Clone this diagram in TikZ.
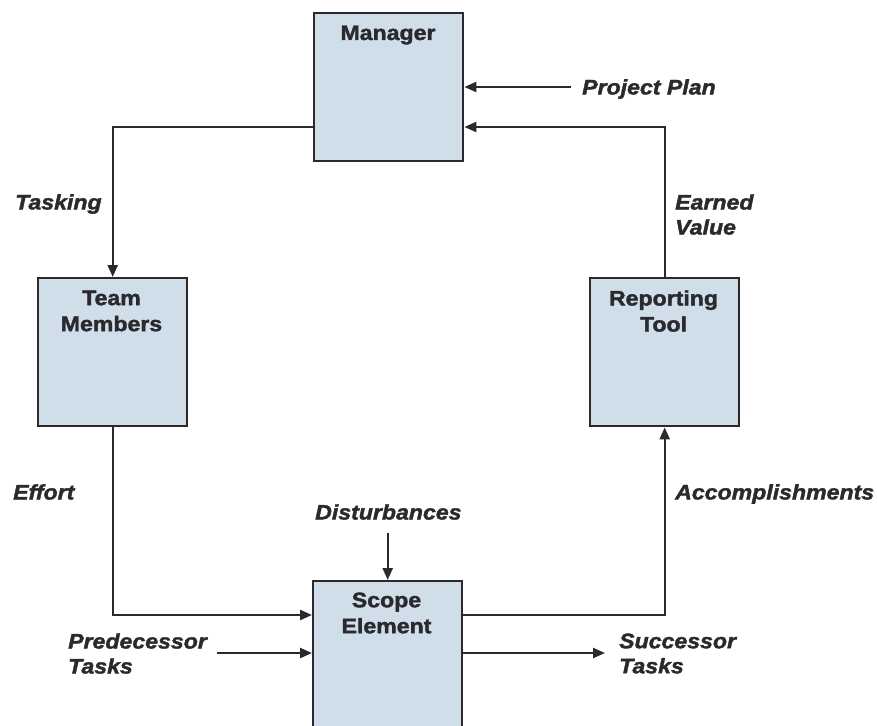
\documentclass[tikz,border=0pt]{standalone}
\usepackage{fontspec}
\setmainfont{Liberation Sans}[FakeStretch=1.1,
  BoldFeatures={FakeBold=1.8}, BoldItalicFeatures={FakeBold=1.8}]
\usetikzlibrary{arrows.meta,calc}
\definecolor{boxfill}{RGB}{208,222,234}
\definecolor{ink}{RGB}{42,42,46}
\begin{document}
\begin{tikzpicture}[x=1pt,y=-1pt,
  block/.style={draw=ink, line width=2.4pt, fill=boxfill, minimum width=149pt,
    minimum height=148pt, inner sep=0pt, anchor=north west},
  title/.style={font=\fontsize{21}{26}\selectfont\bfseries, text=ink,
    align=center, inner sep=0pt},
  flow/.style={font=\fontsize{21}{25}\selectfont\bfseries\itshape, text=ink,
    align=left, inner sep=0pt, anchor=west},
  link/.style={draw=ink, line width=2.4pt, -{Triangle[length=12pt,width=10pt]}}
]
\clip (0,0) rectangle (877,725);

% process blocks
\node[block] (mgr) at (313,12) {};
\node[block] (team) at (37,277) {};
\node[block] (rep) at (589,277) {};
\node[block, minimum height=170pt] (scope) at (312,580) {};

% block titles
\node[title] (mgr-t) at (388,35) {Manager};
\node[title] (team-t) at (111.5,311) {Team\\Members};
\node[title] (rep-t) at (663.5,311) {Reporting\\Tool};
\node[title] (scope-t) at (386.5,613) {Scope\\Element};

% flow labels
\node[flow] (l-plan) at (582,89) {Project Plan};
\node[flow] (l-task) at (15,204) {Tasking};
\node[flow] (l-ev) at (675,214.5) {Earned\\Value};
\node[flow] (l-eff) at (13,492) {Effort};
\node[flow] (l-dist) at (315,512) {Disturbances};
\node[flow] (l-acc) at (675,494) {Accomplishments};
\node[flow] (l-pred) at (68,653.5) {Predecessor\\Tasks};
\node[flow] (l-succ) at (619,653.5) {Successor\\Tasks};

% free ends of the external inputs and outputs
\coordinate (pp) at (571,87);
\coordinate (dist) at (386.5,533);
\coordinate (pred) at (217,653);
\coordinate (succ) at (605,653);

% control loop
\draw[link] ($(mgr.north west)+(0,115)$) -| (team.north);
\draw[link] (team.south) |- ($(scope.north west)+(0,35)$);
\draw[link] ($(scope.north east)+(0,35)$) -| (rep.south);
\draw[link] (rep.north) |- ($(mgr.north east)+(0,115)$);

% external inputs and outputs
\draw[link] (pp) -- (pp -| mgr.east);
\draw[link] (scope.north |- dist) -- (scope.north);
\draw[link] (pred) -- (pred -| scope.west);
\draw[link] (succ -| scope.east) -- (succ);
\end{tikzpicture}
\end{document}
